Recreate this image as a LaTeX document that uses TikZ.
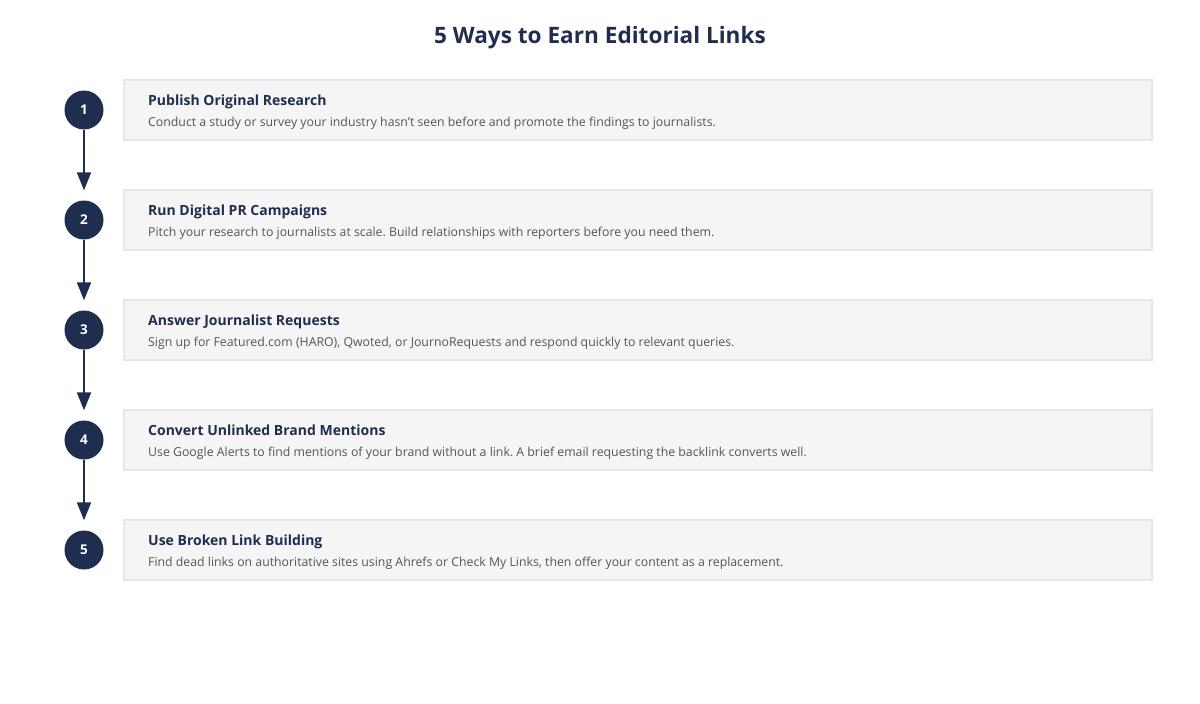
\documentclass[tikz,border=0pt]{standalone}
\usepackage{fontspec}
\setmainfont{Open Sans}
\frenchspacing
\usetikzlibrary{arrows.meta,positioning}
\definecolor{navy}{HTML}{1F2D4E}
\definecolor{cardfill}{HTML}{F5F5F5}
\definecolor{cardline}{HTML}{E5E5EA}
\definecolor{desc}{HTML}{555555}
\tikzset{
 stepnum/.style={circle,fill=navy,minimum size=39pt,inner sep=0pt,text=white,font=\bfseries\fontsize{13.5}{16}\selectfont},
 card/.style={fill=cardfill,draw=cardline,line width=1.3pt,minimum width=1028pt,minimum height=60pt,anchor=north west,inner sep=0pt,outer sep=0pt},
 head/.style={anchor=base west,inner sep=0pt,text=navy,font=\bfseries\fontsize{14}{18}\selectfont},
 sub/.style={anchor=base west,inner sep=0pt,text=desc,font=\fontsize{12.3}{15}\selectfont},
 flow/.style={-{Triangle[length=18pt,width=14pt]},line width=2pt,draw=navy,shorten >=10pt}
}
\begin{document}
\begin{tikzpicture}[x=1pt,y=-1pt]
 \useasboundingbox[fill=white] (0,0) rectangle (1200,704);
 \node[anchor=base,text=navy,font=\bfseries\fontsize{22.6}{28}\selectfont] (title) at (600,43) {5 Ways to Earn Editorial Links};
 \foreach \n/\head/\desc in {
  1/{Publish Original Research}/{Conduct a study or survey your industry hasn't seen before and promote the findings to journalists.},
  2/{Run Digital PR Campaigns}/{Pitch your research to journalists at scale. Build relationships with reporters before you need them.},
  3/{Answer Journalist Requests}/{Sign up for Featured.com (HARO), Qwoted, or JournoRequests and respond quickly to relevant queries.},
  4/{Convert Unlinked Brand Mentions}/{Use Google Alerts to find mentions of your brand without a link. A brief email requesting the backlink converts well.},
  5/{Use Broken Link Building}/{Find dead links on authoritative sites using Ahrefs or Check My Links, then offer your content as a replacement.}}
 {
  \pgfmathsetmacro\top{80+(\n-1)*110}
  \node[card] (card\n) at (124,\top) {};
  \node[stepnum] (s\n) at (84,\top+30) {\n};
  \node[head] (head\n) at (148,\top+25) {\head};
  \node[sub] (sub\n) at (148,\top+46) {\desc};
 }
 \foreach \a/\b in {1/2,2/3,3/4,4/5}
  \draw[flow] (s\a) -- (s\b);
\end{tikzpicture}
\end{document}
